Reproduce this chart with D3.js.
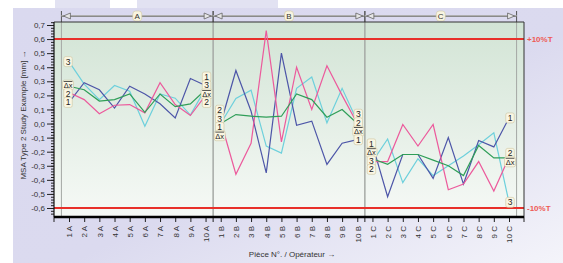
<!DOCTYPE html>
<html>
<head>
<meta charset="utf-8">
<script src="https://cdn.jsdelivr.net/npm/d3@7"></script>
<style>
  body { margin: 0; background: #fff; }
  svg { display: block; font-family: "Liberation Sans", Arial, sans-serif; }
</style>
</head>
<body>
<svg id="chart"></svg>
<script>
// data
let groups = ['A', 'B', 'C']
let pieces = ['1', '2', '3', '4', '5', '6', '7', '8', '9', '10']
let categories = []
groups.forEach(g => pieces.forEach(p => categories.push(p + ' ' + g)))

let trial1 = [ 0.15, 0.29, 0.24, 0.11, 0.265, 0.21, 0.14, 0.04, 0.32, 0.27,
               0.0, 0.377, 0.087, -0.35, 0.50, -0.012, 0.017, -0.29, -0.14, -0.114,
              -0.15, -0.52, -0.22, -0.22, -0.39, -0.10, -0.43, -0.12, -0.166, 0.04 ]
let trial2 = [ 0.22, 0.17, 0.07, 0.13, 0.135, 0.076, 0.29, 0.135, 0.057, 0.20,
               0.016, -0.36, -0.14, 0.66, -0.13, 0.40, 0.10, 0.41, 0.20, 0.0,
              -0.27, -0.27, -0.007, -0.16, -0.007, -0.47, -0.43, -0.27, -0.48, -0.24 ]
let trial3 = [ 0.44, 0.28, 0.17, 0.27, 0.23, -0.02, 0.21, 0.18, 0.06, 0.25,
               0.0, 0.178, 0.237, -0.16, -0.21, 0.25, 0.33, 0.005, 0.25, 0.016,
              -0.27, -0.11, -0.42, -0.25, -0.37, -0.30, -0.23, -0.15, -0.066, -0.56 ]
let meanValues = [ 0.265, 0.24, 0.16, 0.17, 0.21, 0.08, 0.21, 0.12, 0.14, 0.24,
                   0.0, 0.064, 0.052, 0.045, 0.052, 0.21, 0.17, 0.045, 0.10, 0.0,
                  -0.25, -0.29, -0.22, -0.22, -0.26, -0.30, -0.37, -0.156, -0.244, -0.244 ]

let limitValues = [0.6, -0.6]
let limitLabels = ['+10%T', '-10%T']
let yTicks = [0.7, 0.6, 0.5, 0.4, 0.3, 0.2, 0.1, 0.0, -0.1, -0.2, -0.3, -0.4, -0.5, -0.6]

let series = [
  { name: '3', values: trial3, color: '#6dd0dc' },
  { name: '1', values: trial1, color: '#4d56a8' },
  { name: '2', values: trial2, color: '#ec5a9c' },
  { name: 'mean', values: meanValues, color: '#2f9e58' }
]

// layout
let width = 563
let height = 263
let plot = { left: 54, top: 22, right: 524, bottom: 217 }

let svg = d3.select('#chart').attr('width', width).attr('height', height)
let defs = svg.append('defs')

let bgGrad = defs.append('linearGradient').attr('id', 'bg')
  .attr('x1', 0).attr('y1', 0).attr('x2', 1).attr('y2', 1)
bgGrad.append('stop').attr('offset', '0%').attr('stop-color', '#dad9ef')
bgGrad.append('stop').attr('offset', '55%').attr('stop-color', '#dbdaef')
bgGrad.append('stop').attr('offset', '100%').attr('stop-color', '#f4f4fa')

let plotGrad = defs.append('linearGradient').attr('id', 'plotbg')
  .attr('x1', 0).attr('y1', 0).attr('x2', 0).attr('y2', 1)
plotGrad.append('stop').attr('offset', '0%').attr('stop-color', '#d2e4d5')
plotGrad.append('stop').attr('offset', '100%').attr('stop-color', '#f6f9f6')

// background
svg.append('rect').attr('x', 13).attr('y', 8).attr('width', width - 13).attr('height', height - 8)
  .attr('fill', 'url(#bg)')
svg.append('rect').attr('x', 55).attr('y', 0).attr('width', 55).attr('height', 8).attr('fill', '#e2e2f2')
svg.append('rect').attr('x', 137).attr('y', 0).attr('width', 141).attr('height', 8).attr('fill', '#e2e2f2')

svg.append('rect')
  .attr('x', plot.left).attr('y', plot.top)
  .attr('width', plot.right - plot.left).attr('height', plot.bottom - plot.top)
  .attr('fill', 'url(#plotbg)')

// scales
let xScale = d3.scalePoint().domain(categories).range([69, 509])
let yScale = d3.scaleLinear().domain([-0.6, 0.7]).range([208, 25])
let step = xScale.step()

let fmt = v => d3.format('.1f')(v).replace('.', ',').replace('\u2212', '-')

// group separators and brackets
groups.forEach(g => {
  let first = xScale('1 ' + g)
  let last = xScale('10 ' + g)
  let x0 = first - step / 2
  let x1 = last + step / 2
  let by = 16

  ;[x0, x1].forEach(sx => {
    svg.append('line').attr('x1', sx).attr('x2', sx).attr('y1', plot.top).attr('y2', plot.bottom)
      .attr('stroke', '#a4a8a4').attr('stroke-width', 1)
    svg.append('line').attr('x1', sx).attr('x2', sx).attr('y1', 11).attr('y2', plot.top)
      .attr('stroke', '#555').attr('stroke-width', 1)
  })

  svg.append('line').attr('x1', x0).attr('x2', x1).attr('y1', by).attr('y2', by)
    .attr('stroke', '#8a8a8a').attr('stroke-width', 2)
  svg.append('line').attr('x1', x0).attr('x2', x1).attr('y1', by - 0.5).attr('y2', by - 0.5)
    .attr('stroke', '#c8c8c8').attr('stroke-width', 0.6)

  svg.append('path')
    .attr('d', `M${x0 + 2},${by} L${x0 + 9},${by - 3} L${x0 + 9},${by + 3} Z`)
    .attr('fill', '#e6e6e6').attr('stroke', '#666').attr('stroke-width', 0.8)
  svg.append('path')
    .attr('d', `M${x1 - 2},${by} L${x1 - 9},${by - 3} L${x1 - 9},${by + 3} Z`)
    .attr('fill', '#e6e6e6').attr('stroke', '#666').attr('stroke-width', 0.8)

  let mid = (x0 + x1) / 2
  svg.append('rect').attr('x', mid - 4.5).attr('y', by - 5).attr('width', 9).attr('height', 10)
    .attr('rx', 3).attr('fill', '#f8f4e0').attr('stroke', '#cfc7a6').attr('stroke-width', 0.6)
  svg.append('text').attr('x', mid).attr('y', by).attr('dy', '0.35em')
    .attr('text-anchor', 'middle').style('font-size', '8px').attr('fill', '#333').text(g)
})

// limit lines
limitValues.forEach((v, i) => {
  svg.append('line')
    .attr('x1', plot.left).attr('x2', plot.right)
    .attr('y1', yScale(v)).attr('y2', yScale(v))
    .attr('stroke', '#e8302a').attr('stroke-width', 2)
  svg.append('text')
    .attr('x', plot.right + 3).attr('y', yScale(v)).attr('dy', '0.35em')
    .style('font-size', '8px').style('font-weight', 'bold')
    .attr('fill', '#ee5a55').text(limitLabels[i])
})

// lines, one piece per group
let line = d3.line()
  .x(d => xScale(d.cat))
  .y(d => yScale(d.value))

series.forEach(s => {
  groups.forEach((g, gi) => {
    let pts = pieces.map((p, pi) => ({ cat: p + ' ' + g, value: s.values[gi * 10 + pi] }))
    svg.append('path')
      .datum(pts)
      .attr('d', line)
      .attr('fill', 'none')
      .attr('stroke', s.color)
      .attr('stroke-width', 1.2)
  })
})

// end labels of each group
let spread = (items, gap) => {
  items.sort((a, b) => a.y - b.y)
  for (let k = 0; k < 80; k++) {
    for (let i = 1; i < items.length; i++) {
      let d = items[i].y - items[i - 1].y
      if (d < gap) {
        let m = (gap - d) / 2
        items[i].y += m
        items[i - 1].y -= m
      }
    }
  }
}

let drawLabel = (x, y, name) => {
  let grp = svg.append('g').attr('transform', `translate(${x},${y})`)
  let w = name === 'mean' ? 11 : 8.5
  grp.append('rect').attr('x', -w / 2).attr('y', -5).attr('width', w).attr('height', 10)
    .attr('rx', 2).attr('fill', '#faf6e3').attr('stroke', '#cdc4a0').attr('stroke-width', 0.6)
  let t = grp.append('text').attr('text-anchor', 'middle').attr('dy', '0.35em')
    .style('font-size', '8.5px').attr('fill', '#222')
  if (name === 'mean') {
    t.append('tspan').style('text-decoration', 'overline').style('font-size', '7.5px').text('\u0394x')
  } else {
    t.text(name)
  }
}

groups.forEach((g, gi) => {
  ;[0, 9].forEach(pi => {
    let cx = xScale(pieces[pi] + ' ' + g) + (pi === 0 ? -1 : 1)
    let items = series.map(s => ({ name: s.name, y: yScale(s.values[gi * 10 + pi]) }))
    spread(items, 8.5)
    items.forEach(it => drawLabel(cx, it.y, it.name))
  })
})

// frame
svg.append('line').attr('x1', plot.left).attr('x2', plot.right).attr('y1', plot.top).attr('y2', plot.top)
  .attr('stroke', '#333').attr('stroke-width', 1)
svg.append('line').attr('x1', plot.right).attr('x2', plot.right).attr('y1', plot.top).attr('y2', plot.bottom)
  .attr('stroke', '#333').attr('stroke-width', 1)

// y axis
let minorTicks = d3.range(-0.64, 0.7201, 0.02)
let yMinor = d3.axisLeft(yScale).tickValues(minorTicks).tickSize(3).tickFormat('')
svg.append('g').attr('transform', `translate(${plot.left},0)`).call(yMinor)
  .call(g => g.select('.domain').remove())
  .call(g => g.selectAll('line').attr('stroke', '#222'))

let yAxis = d3.axisLeft(yScale).tickValues(yTicks).tickSize(7).tickPadding(2).tickFormat(fmt)
svg.append('g').attr('transform', `translate(${plot.left},0)`).call(yAxis)
  .call(g => g.select('.domain').remove())
  .call(g => g.selectAll('line').attr('stroke', '#222'))
  .call(g => g.selectAll('text').style('font-size', '8px').attr('fill', '#333')
    .style('font-family', '"Liberation Sans", Arial, sans-serif'))

svg.append('line').attr('x1', plot.left).attr('x2', plot.left).attr('y1', plot.top).attr('y2', plot.bottom)
  .attr('stroke', '#111').attr('stroke-width', 1.2)

// x axis
let xAxis = d3.axisBottom(xScale).tickSize(5).tickPadding(3)
svg.append('g').attr('transform', `translate(0,${plot.bottom})`).call(xAxis)
  .call(g => g.select('.domain').remove())
  .call(g => g.selectAll('line').attr('stroke', '#222'))
  .call(g => g.selectAll('text')
    .style('font-size', '8px').attr('fill', '#333')
    .style('font-family', '"Liberation Sans", Arial, sans-serif')
    .attr('transform', 'rotate(-90)')
    .attr('text-anchor', 'end')
    .attr('x', -9).attr('y', 0).attr('dy', '0.35em'))

let edgeTicks = [plot.left, plot.right,
  xScale('10 A') + step / 2, xScale('10 B') + step / 2]
edgeTicks.forEach(tx => {
  svg.append('line').attr('x1', tx).attr('x2', tx).attr('y1', plot.bottom).attr('y2', plot.bottom + 5)
    .attr('stroke', '#222')
})

svg.append('line').attr('x1', plot.left).attr('x2', plot.right).attr('y1', plot.bottom).attr('y2', plot.bottom)
  .attr('stroke', '#000').attr('stroke-width', 2.5)

// titles
svg.append('text')
  .attr('x', 292).attr('y', 257)
  .attr('text-anchor', 'middle')
  .style('font-size', '8px').attr('fill', '#333')
  .text('Pièce N°. / Opérateur →')

svg.append('text')
  .attr('transform', 'translate(23,115) rotate(-90)')
  .attr('text-anchor', 'middle')
  .attr('dy', '0.35em')
  .style('font-size', '8px').attr('fill', '#333')
  .text('MSA Type 2 Study Example [mm] →')
</script>
</body>
</html>
